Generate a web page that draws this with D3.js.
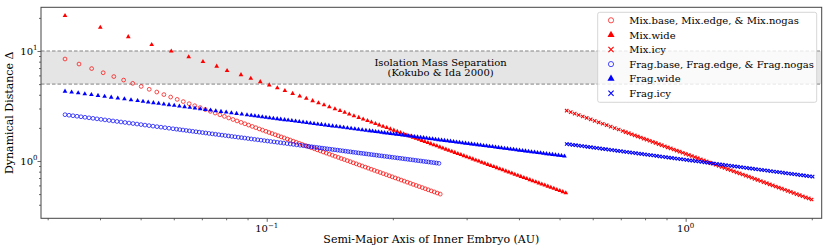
<!DOCTYPE html>
<html lang="en">
<head>
<meta charset="UTF-8">
<script src="https://cdn.jsdelivr.net/npm/d3@7"></script>
<title>Dynamical distance</title>
<style>
  body { margin: 0; background: #fff; }
  text { font-family: "DejaVu Serif", "Liberation Serif", serif; fill: #000; }
</style>
</head>
<body>
<script>
// semi-major axis of inner embryo (AU) and dynamical distance
const mixBaseA = [0.0330,0.03564,0.03820,0.04070,0.04315,0.04554,0.04787,0.05016,0.05242,0.05465,0.05682,0.05898,0.06113,0.06322,0.06530,0.06733,0.06937,0.07138,0.07337,0.07533,0.07729,0.07924,0.08115,0.08307,0.08494,0.08686,0.08867,0.09051,0.09236,0.09416,0.09599,0.09773,0.09954,0.1013,0.1030,0.1048,0.1065,
  0.1083,0.1101,0.1120,0.1138,0.1157,0.1176,0.1196,0.1216,0.1236,0.1257,0.1277,0.1299,0.1320,0.1342,0.1364,0.1387,0.1410,0.1434,0.1457,0.1482,0.1506,0.1531,0.1557,0.1583,0.1609,0.1636,0.1663,0.1690,0.1719,0.1747,0.1776,0.1806,0.1836,0.1866,0.1897,0.1929,0.1961,0.1993,0.2026,0.2060,0.2094,0.2129,0.2165,0.2201,0.2237,0.2274,0.2312,0.2351,0.2390,0.2429,0.2470,0.2511,0.2552,0.2595]
const mixBaseD = [8.457,7.609,6.920,6.342,5.855,5.438,5.078,4.762,4.484,4.235,4.014,3.813,3.631,3.468,3.317,3.180,3.054,2.936,2.828,2.727,2.632,2.545,2.462,2.384,2.312,2.244,2.180,2.121,2.062,2.009,1.956,1.908,1.861,1.816,1.775,1.734,1.695,
  1.657,1.620,1.584,1.548,1.514,1.480,1.447,1.414,1.383,1.352,1.322,1.292,1.263,1.235,1.207,1.180,1.154,1.128,1.103,1.078,1.054,1.031,1.008,0.9852,0.9632,0.9416,0.9206,0.9000,0.8799,0.8602,0.8410,0.8222,0.8038,0.7859,0.7683,0.7511,0.7343,0.7179,0.7019,0.6862,0.6708,0.6559,0.6412,0.6269,0.6129,0.5992,0.5858,0.5727,0.5599,0.5474,0.5351,0.5232,0.5115,0.5001]

const mixWideA = [0.0330,0.04006,0.04672,0.05314,0.05918,0.06512,0.07043,0.07596,0.08042,0.08681,0.09161,0.09651,0.1014,0.1060,0.1105,0.1153,0.1199,0.1243,0.1287,0.1329,0.1370,0.1411,0.1455,0.1496,0.1535,0.1574,0.1615,0.1658,0.1699,0.1740,0.1778,0.1818,0.1856,0.1895,0.1934,0.1973,0.2011,0.2049,0.2087,0.2123,0.2161,0.2198,0.2235,0.2272,0.2309,
  0.2346,0.2385,0.2425,0.2465,0.2506,0.2548,0.2590,0.2633,0.2677,0.2721,0.2766,0.2812,0.2859,0.2907,0.2955,0.3004,0.3054,0.3105,0.3156,0.3209,0.3262,0.3316,0.3371,0.3427,0.3484,0.3542,0.3601,0.3661,0.3722,0.3784,0.3847,0.3911,0.3976,0.4042,0.4109,0.4177,0.4247,0.4317,0.4389,0.4462,0.4536,0.4611,0.4688,0.4766,0.4845,0.4926,0.5008,0.5091,0.5175]
const mixWideD = [20.94,16.36,13.45,11.42,9.962,8.822,7.983,7.254,6.624,6.079,5.640,5.249,4.900,4.612,4.350,4.101,3.889,3.699,3.523,3.371,3.232,3.100,2.973,2.862,2.762,2.667,2.573,2.483,2.398,2.322,2.252,2.185,2.123,2.062,2.005,1.950,1.900,1.851,1.805,1.762,1.719,1.679,1.641,1.604,1.569,
  1.534,1.499,1.466,1.433,1.400,1.369,1.338,1.308,1.278,1.249,1.221,1.193,1.167,1.140,1.115,1.089,1.065,1.041,1.017,0.9944,0.9719,0.9500,0.9286,0.9076,0.8871,0.8671,0.8476,0.8285,0.8098,0.7915,0.7736,0.7562,0.7391,0.7225,0.7062,0.6902,0.6747,0.6594,0.6446,0.6300,0.6158,0.6019,0.5883,0.5751,0.5621,0.5494,0.5370,0.5249,0.5131]

const mixIcyA = [0.5200,0.5316,0.5434,0.5555,0.5678,0.5804,0.5933,0.6065,0.6200,0.6338,0.6478,0.6622,0.6770,0.6920,0.7074,
  0.7191,0.7311,0.7432,0.7556,0.7682,0.7809,0.7939,0.8071,0.8205,0.8341,0.8480,0.8621,0.8764,0.8910,0.9058,0.9209,0.9362,0.9517,0.9675,0.9836,1.000,1.017,1.034,1.051,1.068,1.086,1.104,1.122,1.141,1.160,1.179,1.199,1.219,1.239,1.260,1.281,1.302,1.323,1.345,1.368,1.391,1.414,1.437,1.461,1.485,1.510,1.535,1.561,1.587,1.613,1.640,1.667,1.695,1.723,1.752,1.781,1.810,1.840,1.871,1.902,1.934,1.966,1.998]
const mixIcyD = [2.866,2.780,2.697,2.617,2.538,2.462,2.389,2.317,2.248,2.181,2.116,2.052,1.991,1.932,1.874,
  1.832,1.790,1.750,1.711,1.672,1.635,1.598,1.562,1.527,1.492,1.459,1.426,1.394,1.362,1.332,1.302,1.272,1.244,1.216,1.188,1.162,1.135,1.110,1.085,1.060,1.037,1.013,0.9904,0.9681,0.9463,0.9250,0.9042,0.8838,0.8639,0.8445,0.8255,0.8069,0.7887,0.7710,0.7536,0.7367,0.7201,0.7039,0.6880,0.6725,0.6574,0.6426,0.6281,0.6140,0.6002,0.5867,0.5734,0.5605,0.5479,0.5356,0.5235,0.5117,0.5002,0.4890,0.4780,0.4672,0.4567,0.4464]

const fragBaseA = [0.03300,0.03373,0.03448,0.03525,0.03603,0.03683,0.03765,0.03849,0.03934,0.04022,0.04111,0.04203,0.04296,0.04391,0.04489,0.04589,0.04691,0.04795,0.04902,0.05011,0.05122,0.05236,0.05352,0.05471,0.05593,0.05717,0.05844,0.05974,
  0.06090,0.06200,0.06311,0.06425,0.06541,0.06659,0.06779,0.06901,0.07026,0.07152,0.07281,0.07412,0.07546,0.07682,0.07820,0.07961,0.08105,0.08251,0.08399,0.08551,0.08705,0.08862,0.09021,0.09184,0.09350,0.09518,0.09690,0.09864,0.1004,0.1022,0.1041,0.1060,0.1079,0.1098,0.1118,0.1138,0.1158,0.1179,0.1201,0.1222,0.1244,
  0.1261,0.1280,0.1298,0.1317,0.1336,0.1355,0.1374,0.1394,0.1414,0.1435,0.1455,0.1476,0.1497,0.1519,0.1541,0.1563,0.1586,0.1608,0.1631,0.1655,0.1679,0.1703,0.1727,0.1752,0.1778,0.1803,0.1829,0.1855,0.1882,0.1909,0.1937,0.1965,0.1993,0.2022,0.2051,0.2080,0.2110,0.2140,0.2171,0.2202,0.2234,0.2266,0.2299,0.2332,0.2366,0.2400,0.2434,0.2469,0.2505,0.2541,0.2577]
const fragBaseD = [2.636,2.607,2.579,2.551,2.524,2.496,2.469,2.442,2.416,2.390,2.364,2.338,2.313,2.288,2.263,2.239,2.214,2.190,2.167,2.143,2.120,2.097,2.074,2.052,2.030,2.008,1.986,1.964,
  1.946,1.929,1.912,1.895,1.878,1.861,1.845,1.829,1.813,1.797,1.781,1.765,1.750,1.734,1.719,1.704,1.689,1.674,1.659,1.644,1.630,1.616,1.601,1.587,1.573,1.559,1.546,1.532,1.519,1.505,1.492,1.479,1.466,1.453,1.440,1.427,1.415,1.402,1.390,1.378,1.365,
  1.356,1.347,1.337,1.328,1.318,1.309,1.300,1.291,1.281,1.272,1.263,1.255,1.246,1.237,1.228,1.219,1.211,1.202,1.194,1.185,1.177,1.169,1.161,1.152,1.144,1.136,1.128,1.120,1.112,1.104,1.097,1.089,1.081,1.074,1.066,1.059,1.051,1.044,1.036,1.029,1.022,1.014,1.007,1.000,0.9930,0.9860,0.9791,0.9722,0.9653,0.9585,0.9517]

const fragWideA = [0.03300,0.03422,0.03548,0.03679,0.03815,0.03956,0.04102,0.04254,0.04411,0.04574,0.04743,0.04918,
  0.05066,0.05213,0.05364,0.05520,0.05680,0.05844,0.06014,0.06188,0.06367,0.06552,0.06742,0.06937,0.07138,0.07345,0.07558,0.07777,0.08003,0.08235,0.08473,0.08719,0.08972,
  0.09181,0.09370,0.09562,0.09759,0.09959,0.1016,0.1037,0.1059,0.1080,0.1103,0.1125,0.1148,0.1172,0.1196,0.1221,0.1246,0.1271,0.1297,0.1324,0.1351,0.1379,0.1407,0.1436,0.1466,0.1496,0.1526,0.1558,0.1590,0.1623,0.1656,0.1690,0.1725,0.1760,
  0.1789,0.1819,0.1849,0.1880,0.1911,0.1943,0.1975,0.2008,0.2041,0.2075,0.2110,0.2145,0.2180,0.2217,0.2253,0.2291,0.2329,0.2368,0.2407,0.2447,0.2488,0.2529,0.2571,0.2614,0.2657,0.2701,0.2746,0.2792,0.2838,0.2885,0.2933,0.2982,0.3032,0.3082,0.3133,0.3185,0.3238,0.3292,0.3347,0.3402,0.3459,0.3516,0.3575,0.3634,0.3695,0.3756,0.3818,0.3882,0.3946,0.4012,0.4079,0.4146,0.4215,0.4285,0.4357,0.4429,0.4503,0.4577,0.4653,0.4731,0.4809,0.4889,0.4971,0.5053,0.5137]
const fragWideD = [4.301,4.225,4.150,4.076,4.003,3.932,3.862,3.794,3.726,3.660,3.595,3.531,
  3.480,3.431,3.383,3.336,3.289,3.243,3.197,3.152,3.108,3.065,3.022,2.979,2.937,2.896,2.856,2.816,2.776,2.737,2.699,2.661,2.624,
  2.594,2.568,2.542,2.517,2.492,2.467,2.442,2.418,2.394,2.370,2.346,2.322,2.299,2.276,2.253,2.231,2.209,2.187,2.165,2.143,2.122,2.100,2.079,2.059,2.038,2.018,1.997,1.977,1.958,1.938,1.919,1.899,1.880,
  1.865,1.850,1.835,1.820,1.805,1.791,1.776,1.762,1.748,1.733,1.719,1.705,1.692,1.678,1.664,1.651,1.637,1.624,1.611,1.598,1.585,1.572,1.559,1.546,1.534,1.522,1.509,1.497,1.485,1.473,1.461,1.449,1.437,1.426,1.414,1.403,1.391,1.380,1.369,1.358,1.347,1.336,1.325,1.314,1.303,1.293,1.282,1.272,1.262,1.251,1.241,1.231,1.221,1.211,1.201,1.192,1.182,1.172,1.163,1.154,1.144,1.135,1.126,1.117,1.107]

const fragIcyA = [0.5200,0.5286,0.5374,0.5464,0.5554,0.5647,0.5741,0.5836,0.5933,0.6032,0.6132,0.6234,0.6337,0.6443,0.6550,0.6659,0.6769,0.6882,0.6996,0.7113,0.7231,0.7351,0.7473,0.7597,0.7724,0.7852,0.7983,0.8115,0.8250,0.8387,0.8527,0.8668,0.8812,0.8959,0.9108,0.9259,0.9413,0.9570,0.9729,0.9890,1.006,1.022,1.039,1.057,1.074,1.092,1.110,1.129,1.147,1.166,1.186,1.205,1.225,1.246,1.267,1.288,1.309,1.331,1.353,1.375,1.398,1.421,1.445,1.469,1.493,1.518,1.543,1.569,1.595,1.622,1.649,1.676,1.704,1.732,1.761,1.790,1.820,1.850,1.881,1.912,1.944,1.976,2.009]
const fragIcyD = [1.427,1.415,1.403,1.392,1.380,1.369,1.357,1.346,1.335,1.324,1.313,1.302,1.291,1.280,1.270,1.259,1.249,1.238,1.228,1.218,1.208,1.198,1.188,1.178,1.168,1.159,1.149,1.139,1.130,1.121,1.111,1.102,1.093,1.084,1.075,1.066,1.057,1.048,1.040,1.031,1.022,1.014,1.006,0.9972,0.9889,0.9807,0.9725,0.9645,0.9564,0.9485,0.9406,0.9328,0.9251,0.9174,0.9098,0.9022,0.8947,0.8873,0.8800,0.8726,0.8654,0.8582,0.8511,0.8440,0.8370,0.8301,0.8232,0.8164,0.8096,0.8029,0.7962,0.7896,0.7830,0.7765,0.7701,0.7637,0.7574,0.7511,0.7448,0.7387,0.7325,0.7264,0.7204]

const seriesNames = ['Mix.base, Mix.edge, & Mix.nogas', 'Mix.wide', 'Mix.icy',
                     'Frag.base, Frag.edge, & Frag.nogas', 'Frag.wide', 'Frag.icy']
const isolationBand = [5, 10]
const xMajor = [0.1, 1]
const xMinor = [0.03, 0.04, 0.05, 0.06, 0.07, 0.08, 0.09, 0.2, 0.3, 0.4, 0.5, 0.6, 0.7, 0.8, 0.9, 2]
const yMajor = [1, 10]
const yMinor = [0.4, 0.5, 0.6, 0.7, 0.8, 0.9, 2, 3, 4, 5, 6, 7, 8, 9, 20]

const series = [
  {name: seriesNames[0], a: mixBaseA, d: mixBaseD, color: 'red', marker: 'circle'},
  {name: seriesNames[1], a: mixWideA, d: mixWideD, color: 'red', marker: 'triangle'},
  {name: seriesNames[2], a: mixIcyA, d: mixIcyD, color: 'red', marker: 'x'},
  {name: seriesNames[3], a: fragBaseA, d: fragBaseD, color: 'blue', marker: 'circle'},
  {name: seriesNames[4], a: fragWideA, d: fragWideD, color: 'blue', marker: 'triangle'},
  {name: seriesNames[5], a: fragIcyA, d: fragIcyD, color: 'blue', marker: 'x'}
]

const width = 830, height = 249
const margin = {top: 7.3, right: 8.3, bottom: 30.7, left: 41}

const x = d3.scaleLog()
    .domain([0.02892, 2.112])
    .range([margin.left, width - margin.right])
const y = d3.scaleLog()
    .domain([0.3013, 24.96])
    .range([height - margin.bottom, margin.top])

const svg = d3.select('body').append('svg')
    .attr('width', width)
    .attr('height', height)

svg.append('clipPath').attr('id', 'plot')
  .append('rect')
    .attr('x', margin.left).attr('y', margin.top)
    .attr('width', width - margin.left - margin.right)
    .attr('height', height - margin.top - margin.bottom)

const plot = svg.append('g').attr('clip-path', 'url(#plot)')

// isolation mass separation band
plot.append('rect')
    .attr('x', margin.left)
    .attr('width', width - margin.left - margin.right)
    .attr('y', y(isolationBand[1]))
    .attr('height', y(isolationBand[0]) - y(isolationBand[1]))
    .attr('fill', '#e5e5e5')
plot.selectAll('.band-edge')
  .data(isolationBand)
  .join('line')
    .attr('x1', margin.left).attr('x2', width - margin.right)
    .attr('y1', d => y(d)).attr('y2', d => y(d))
    .attr('stroke', '#777')
    .attr('stroke-width', 0.9)
    .attr('stroke-dasharray', '3.5,2')

const bandText = svg.append('text')
    .attr('text-anchor', 'middle')
    .attr('font-size', 10)
bandText.append('tspan').attr('x', x(0.26)).attr('y', 65.5).text('Isolation Mass Separation')
bandText.append('tspan').attr('x', x(0.26)).attr('y', 76).text('(Kokubo & Ida 2000)')

function markerPath(kind, s) {
  if (kind === 'circle') return d3.symbol(d3.symbolCircle, Math.PI * s * s)()
  if (kind === 'triangle') return d3.symbol(d3.symbolTriangle, s * s * 2.8)()
  return `M${-s},${-s}L${s},${s}M${-s},${s}L${s},${-s}`
}

function styleMarker(sel, s) {
  sel.attr('fill', s.marker === 'triangle' ? s.color : 'none')
     .attr('stroke', s.marker === 'triangle' ? 'none' : s.color)
     .attr('stroke-width', s.marker === 'x' ? 1.1 : 1)
     .attr('stroke-opacity', s.marker === 'circle' ? 0.7 : 1)
}

const plotSize = {circle: 1.9, triangle: 1.85, x: 1.7}

series.forEach(s => {
  const pts = d3.zip(s.a, s.d)
  plot.append('g')
    .selectAll('path')
    .data(pts)
    .join('path')
      .attr('transform', d => `translate(${x(d[0])},${y(d[1])})`)
      .attr('d', markerPath(s.marker, plotSize[s.marker]))
      .call(styleMarker, s)
})

// frame
svg.append('rect')
    .attr('x', margin.left).attr('y', margin.top)
    .attr('width', width - margin.left - margin.right)
    .attr('height', height - margin.top - margin.bottom)
    .attr('fill', 'none')
    .attr('stroke', '#444')
    .attr('stroke-width', 1)

// ticks
const xAxisMajor = g => g
    .attr('transform', `translate(0,${height - margin.bottom})`)
    .call(d3.axisBottom(x).tickValues(xMajor).tickSize(3.5).tickFormat(''))
const xAxisMinor = g => g
    .attr('transform', `translate(0,${height - margin.bottom})`)
    .call(d3.axisBottom(x).tickValues(xMinor).tickSize(2).tickFormat(''))
const yAxisMajor = g => g
    .attr('transform', `translate(${margin.left},0)`)
    .call(d3.axisLeft(y).tickValues(yMajor).tickSize(3.5).tickFormat(''))
const yAxisMinor = g => g
    .attr('transform', `translate(${margin.left},0)`)
    .call(d3.axisLeft(y).tickValues(yMinor).tickSize(2).tickFormat(''))

;[xAxisMajor, xAxisMinor, yAxisMajor, yAxisMinor].forEach(ax => {
  const g = svg.append('g').call(ax)
  g.select('.domain').remove()
  g.selectAll('line').attr('stroke', '#444').attr('stroke-width', 0.8)
})

function powerLabel(sel, v) {
  const e = Math.round(Math.log10(v))
  sel.append('tspan').text('10')
  sel.append('tspan').attr('dy', -4.5).attr('font-size', 7).text(String(e).replace('-', '\u2212'))
}

svg.append('g').selectAll('text')
  .data(xMajor)
  .join('text')
    .attr('x', d => x(d))
    .attr('y', 232)
    .attr('text-anchor', 'middle')
    .attr('font-size', 10)
    .each(function(d) { powerLabel(d3.select(this), d) })

svg.append('g').selectAll('text')
  .data(yMajor)
  .join('text')
    .attr('x', 37.5)
    .attr('y', d => y(d) + 3.8)
    .attr('text-anchor', 'end')
    .attr('font-size', 10)
    .each(function(d) { powerLabel(d3.select(this), d) })

svg.append('text')
    .attr('x', (margin.left + width - margin.right) / 2)
    .attr('y', 243)
    .attr('text-anchor', 'middle')
    .attr('font-size', 11)
    .text('Semi-Major Axis of Inner Embryo (AU)')

svg.append('text')
    .attr('transform', `translate(12.5,${(margin.top + height - margin.bottom) / 2}) rotate(-90)`)
    .attr('text-anchor', 'middle')
    .attr('font-size', 11)
    .text('Dynamical Distance \u0394')

// legend
const legend = svg.append('g').attr('transform', 'translate(597.7,12.3)')
legend.append('rect')
    .attr('width', 219).attr('height', 90)
    .attr('rx', 2)
    .attr('fill', '#fff').attr('fill-opacity', 0.8)
    .attr('stroke', '#ccc').attr('stroke-width', 0.8)

const legendSize = {circle: 2.6, triangle: 2.8, x: 2.6}
const rows = legend.selectAll('.row')
  .data(series)
  .join('g')
    .attr('transform', (d, i) => `translate(0,${8 + i * 14.6})`)
rows.append('path')
    .attr('transform', 'translate(13.3,0)')
    .attr('d', d => markerPath(d.marker, legendSize[d.marker]))
    .each(function(d) { d3.select(this).call(styleMarker, d) })
rows.append('text')
    .attr('x', 31.6)
    .attr('y', 3.6)
    .attr('font-size', 10)
    .text(d => d.name)
</script>
</body>
</html>
